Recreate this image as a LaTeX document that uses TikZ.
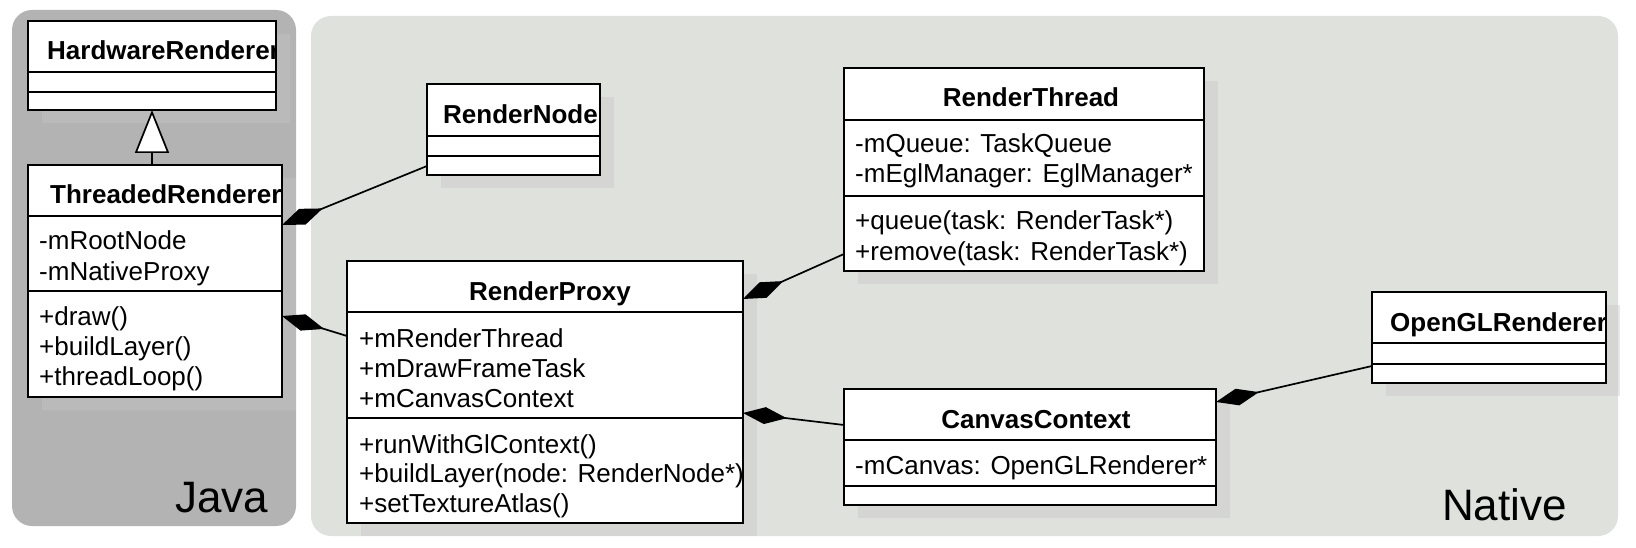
\documentclass[tikz,border=0pt]{standalone}
\usepackage{fontspec}
\setmainfont{Liberation Sans}
\usetikzlibrary{arrows.meta,calc}
\definecolor{javabg}{HTML}{B3B3B3}
\definecolor{nativebg}{HTML}{DFE1DC}
\definecolor{shadowc}{HTML}{C6C6C6}
\begin{document}
\begin{tikzpicture}[x=1pt,y=-1pt,
  panel/.style={rounded corners=20pt},
  cls/.style={draw=black, line width=2pt, fill=white, inner sep=0pt},
  shd/.style={fill=shadowc, fill opacity=0.4},
  div/.style={line width=2pt},
  txt/.style={anchor=base west, inner sep=0pt, font=\fontsize{26}{30}\selectfont},
  ttl/.style={anchor=base, inner sep=0pt, font=\fontsize{26}{30}\selectfont\bfseries},
  ttlw/.style={anchor=base west, inner sep=0pt, font=\fontsize{26}{30}\selectfont\bfseries},
  lbl/.style={anchor=base west, inner sep=0pt, font=\fontsize{44}{50}\selectfont},
  comp/.style={line width=1.7pt, -{Diamond[length=44pt,width=17pt,fill=black]}},
  inh/.style={line width=1.7pt, -{Triangle[length=43pt,width=34pt,fill=white]}}
]
\useasboundingbox (0,0) rectangle (1636,548);
% panels
\fill[panel, javabg] (12,10) rectangle (296,526);
\fill[panel, nativebg] (311,16) rectangle (1618,536);
\node[lbl] (javalbl) at (175,512) {Java};
\node[lbl] (nativelbl) at (1442,520) {Native};

% class boxes
\path node[cls, minimum width=246pt, minimum height=87pt] (hr) at (152,65.5) {}
      node[cls, minimum width=252pt, minimum height=230pt] (tr) at (155,281) {}
      node[cls, minimum width=171pt, minimum height=89pt] (rn) at (513.5,129.5) {}
      node[cls, minimum width=394pt, minimum height=260pt] (rp) at (545,392) {}
      node[cls, minimum width=358pt, minimum height=201pt] (rt) at (1024,169.5) {}
      node[cls, minimum width=370pt, minimum height=114pt] (cc) at (1030,447) {}
      node[cls, minimum width=232pt, minimum height=89pt] (ogl) at (1489,337.5) {};

% shadows
\foreach \n in {hr,tr,rn,rp,rt,cc,ogl}{
  \fill[shd] ([shift={(14,13)}]\n.north west) rectangle ([shift={(14,13)}]\n.south east);
}
% boxes again on top of their shadows
\foreach \n in {hr,tr,rn,rp,rt,cc,ogl}{
  \draw[line width=2pt, fill=white] (\n.north west) rectangle (\n.south east);
}

% dividers
\draw[div] (hr.west |- 0,72) -- (hr.east |- 0,72);
\draw[div] (hr.west |- 0,92) -- (hr.east |- 0,92);
\draw[div] (tr.west |- 0,216) -- (tr.east |- 0,216);
\draw[div] (tr.west |- 0,291) -- (tr.east |- 0,291);
\draw[div] (rn.west |- 0,136) -- (rn.east |- 0,136);
\draw[div] (rn.west |- 0,156) -- (rn.east |- 0,156);
\draw[div] (rp.west |- 0,312) -- (rp.east |- 0,312);
\draw[div] (rp.west |- 0,418) -- (rp.east |- 0,418);
\draw[div] (rt.west |- 0,120) -- (rt.east |- 0,120);
\draw[div] (rt.west |- 0,196) -- (rt.east |- 0,196);
\draw[div] (cc.west |- 0,440) -- (cc.east |- 0,440);
\draw[div] (cc.west |- 0,486) -- (cc.east |- 0,486);
\draw[div] (ogl.west |- 0,343) -- (ogl.east |- 0,343);
\draw[div] (ogl.west |- 0,364) -- (ogl.east |- 0,364);

% clipped titles
\begin{scope}
\clip (hr.north west) rectangle (hr.south east);
\node[ttlw] (hrt) at (47,60) {HardwareRenderer};
\end{scope}
\begin{scope}
\clip (tr.north west) rectangle (tr.south east);
\node[ttlw] (trt) at (50,204) {ThreadedRenderer};
\end{scope}
\begin{scope}
\clip (rn.north west) rectangle (rn.south east);
\node[ttlw] (rnt) at (443,124) {RenderNode};
\end{scope}
\begin{scope}
\clip (ogl.north west) rectangle (ogl.south east);
\node[ttlw] (oglt) at (1390,331) {OpenGLRenderer};
\end{scope}
\node[ttl] (rpt) at (550,300) {RenderProxy};
\node[ttl] (rtt) at (1031,107) {RenderThread};
\node[ttl] (cct) at (1036,428) {CanvasContext};

% members
\node[txt] (tr1) at (39,250) {-mRootNode};
\node[txt] (tr2) at (39,280) {-mNativeProxy};
\node[txt] (tr3) at (39,325) {+draw()};
\node[txt] (tr4) at (39,355) {+buildLayer()};
\node[txt] (tr5) at (39,385) {+threadLoop()};

\node[txt] (rp1) at (359,347) {+mRenderThread};
\node[txt] (rp2) at (359,377) {+mDrawFrameTask};
\node[txt] (rp3) at (359,407) {+mCanvasContext};
\node[txt] (rp4) at (359,453) {+runWithGlContext()};
\node[txt] (rp5) at (359,482) {+buildLayer(node: RenderNode*)};
\node[txt] (rp6) at (359,512) {+setTextureAtlas()};

\node[txt] (rt1) at (855,153) {-mQueue: TaskQueue};
\node[txt] (rt2) at (855,183) {-mEglManager: EglManager*};
\node[txt] (rt3) at (855,230) {+queue(task: RenderTask*)};
\node[txt] (rt4) at (855,260) {+remove(task: RenderTask*)};

\node[txt] (cc1) at (855,474) {-mCanvas: OpenGLRenderer*};

% connectors
\draw[inh] (tr.north -| hr.south) -- (hr.south);
\draw[comp] (rn.west |- 0,166) -- (tr.east |- 0,225);
\draw[comp] (rp.west |- 0,336) -- (tr.east |- 0,316);
\draw[comp] (rt.west |- 0,254) -- (rp.east |- 0,299);
\draw[comp] (cc.west |- 0,425) -- (rp.east |- 0,413);
\draw[comp] (ogl.west |- 0,366) -- (cc.east |- 0,402);
\end{tikzpicture}
\end{document}
